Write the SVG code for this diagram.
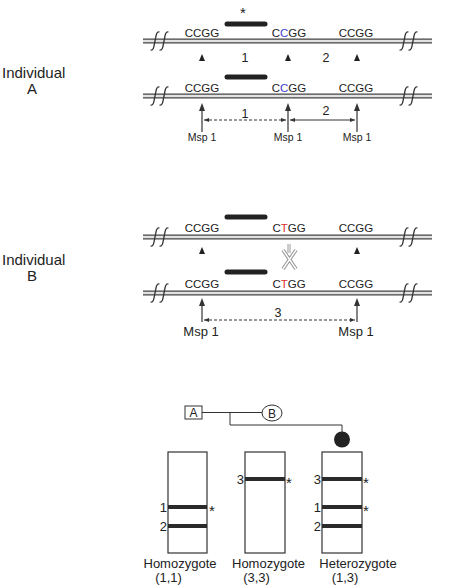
<svg xmlns="http://www.w3.org/2000/svg" width="450" height="588" viewBox="0 0 450 588">
<style>
text{font-family:"Liberation Sans",Arial,sans-serif;fill:#222}
.lbl{font-size:15px}
.seq{font-size:11.5px;text-anchor:middle}
.num{font-size:12.5px;text-anchor:middle}
.msa{font-size:10.5px;text-anchor:middle}
.msb{font-size:13px;text-anchor:middle}
.gl{font-size:13px;text-anchor:middle}
.bn{font-size:13px;text-anchor:end}
.st{font-size:15px}
.dnaO{stroke:#444;stroke-width:5}
.dnaI{stroke:#e2e2e2;stroke-width:2.4}
.bar{stroke:#222;stroke-width:5;stroke-linecap:round}
.tri{fill:#222}
.ar{stroke:#333;stroke-width:1.2;fill:none}
.dash{stroke:#333;stroke-width:1;stroke-dasharray:3,2;fill:none}
.sol{stroke:#333;stroke-width:1;fill:none}
.ped{stroke:#333;stroke-width:1;fill:none}
.gel{stroke:#333;stroke-width:1.2;fill:#fff}
.band{stroke:#2a2a2a;stroke-width:4}
</style>
<defs>
<path id="s" d="M-4.5,9 C-1,10 -1,4 0,0 C1,-4 1,-10 4.5,-9" fill="none" stroke="#333" stroke-width="1.3"/>
<g id="brkpair"><use href="#s" x="0"/><use href="#s" x="9"/></g>
<marker id="ah" viewBox="0 0 6 6" refX="6" refY="3" markerWidth="5" markerHeight="5" orient="auto-start-reverse" markerUnits="userSpaceOnUse"><path d="M0,0.5 L6,3 L0,5.5 Z" fill="#333"/></marker>
<path id="uph" d="M-3,8 L0,0 L3,8 Z" fill="#333"/>
</defs>

<g id="labelA"><text class="lbl" x="2" y="78">Individual</text><text class="lbl" x="32" y="94" text-anchor="middle">A</text></g>
<g id="labelB"><text class="lbl" x="2" y="265">Individual</text><text class="lbl" x="32" y="281" text-anchor="middle">B</text></g>

<g id="rowA1">
<line class="dnaO" x1="143" y1="41" x2="432" y2="41"/><line class="dnaI" x1="143" y1="41" x2="432" y2="41"/>
<use href="#brkpair" x="155" y="41"/><use href="#brkpair" x="404" y="41"/>
<line class="bar" x1="227" y1="24" x2="265" y2="24"/>
<text class="st" x="243" y="18" text-anchor="middle">*</text>
<text class="seq" x="202" y="37">CCGG</text>
<text class="seq" x="289" y="37">C<tspan fill="#4040d0">C</tspan>GG</text>
<text class="seq" x="356" y="37">CCGG</text>
<polygon class="tri" points="199,61 205,61 202,54"/>
<polygon class="tri" points="285,61 291,61 288,54"/>
<polygon class="tri" points="354,61 360,61 357,54"/>
<text class="num" x="245" y="62">1</text><text class="num" x="326" y="62">2</text>
</g>

<g id="rowA2">
<line class="dnaO" x1="143" y1="96" x2="432" y2="96"/><line class="dnaI" x1="143" y1="96" x2="432" y2="96"/>
<use href="#brkpair" x="155" y="96"/><use href="#brkpair" x="404" y="96"/>
<line class="bar" x1="227" y1="77" x2="265" y2="77"/>
<text class="seq" x="202" y="92">CCGG</text>
<text class="seq" x="289" y="92">C<tspan fill="#4040d0">C</tspan>GG</text>
<text class="seq" x="356" y="92">CCGG</text>
<text class="num" x="245" y="118">1</text><text class="num" x="326" y="115">2</text>
<text class="msa" x="202" y="141">Msp 1</text><text class="msa" x="288" y="141">Msp 1</text><text class="msa" x="357" y="141">Msp 1</text>
</g>

<g id="rowB1">
<line class="dnaO" x1="143" y1="237" x2="432" y2="237"/><line class="dnaI" x1="143" y1="237" x2="432" y2="237"/>
<use href="#brkpair" x="155" y="237"/><use href="#brkpair" x="404" y="237"/>
<line class="bar" x1="227" y1="217" x2="265" y2="217"/>
<text class="seq" x="202" y="232">CCGG</text>
<text class="seq" x="289" y="232">C<tspan fill="#e03030">T</tspan>GG</text>
<text class="seq" x="356" y="232">CCGG</text>
<polygon class="tri" points="199,254 205,254 202,247"/>
<polygon class="tri" points="354,254 360,254 357,247"/>
<g id="blocked">
<line x1="289" y1="244" x2="289" y2="253" stroke="#999" stroke-width="3"/>
<line x1="289" y1="244" x2="289" y2="253" stroke="#fff" stroke-width="1"/>
<path d="M283,250 L296,269 M296,250 L283,269" stroke="#999" stroke-width="3.6" fill="none"/>
<path d="M283,250 L296,269 M296,250 L283,269" stroke="#fff" stroke-width="1.4" fill="none"/>
</g>
</g>

<g id="rowB2">
<line class="dnaO" x1="143" y1="293" x2="432" y2="293"/><line class="dnaI" x1="143" y1="293" x2="432" y2="293"/>
<use href="#brkpair" x="155" y="293"/><use href="#brkpair" x="404" y="293"/>
<line class="bar" x1="227" y1="272" x2="265" y2="272"/>
<text class="seq" x="202" y="288">CCGG</text>
<text class="seq" x="289" y="288">C<tspan fill="#e03030">T</tspan>GG</text>
<text class="seq" x="356" y="288">CCGG</text>
<text class="num" x="278" y="317">3</text>
<text class="msb" x="201" y="336">Msp 1</text><text class="msb" x="356" y="336">Msp 1</text>
</g>

<g id="connectors">
<line class="ar" x1="202" y1="132" x2="202" y2="108"/><use href="#uph" x="202" y="103"/>
<line class="ar" x1="288" y1="132" x2="288" y2="108"/><use href="#uph" x="288" y="103"/>
<line class="ar" x1="357" y1="132" x2="357" y2="108"/><use href="#uph" x="357" y="103"/>
<line class="dash" x1="204" y1="120" x2="286" y2="120" marker-start="url(#ah)" marker-end="url(#ah)"/>
<line class="sol" x1="290" y1="120" x2="355" y2="120" marker-start="url(#ah)" marker-end="url(#ah)"/>
<line class="ar" x1="202" y1="322" x2="202" y2="303"/><use href="#uph" x="202" y="298"/>
<line class="ar" x1="357" y1="322" x2="357" y2="303"/><use href="#uph" x="357" y="298"/>
<line class="dash" x1="204" y1="320" x2="355" y2="320" marker-start="url(#ah)" marker-end="url(#ah)"/>
<path class="ped" d="M202,412.5 H262 M230,412.5 V425 H342 V432"/>
</g>

<g id="pedA"><rect x="185" y="406" width="17" height="13" fill="#fff" stroke="#333" stroke-width="1"/><text x="193.5" y="417" font-size="12" text-anchor="middle">A</text></g>
<g id="pedB"><ellipse cx="272" cy="413" rx="10" ry="8" fill="#fff" stroke="#333" stroke-width="1"/><text x="272" y="417.5" font-size="12" text-anchor="middle">B</text></g>
<g id="child"><circle cx="342" cy="439.5" r="8" fill="#222"/></g>

<g id="gel1">
<rect class="gel" x="168" y="452" width="39" height="101"/>
<line class="band" x1="168" y1="507" x2="207" y2="507"/><line class="band" x1="168" y1="526" x2="207" y2="526"/>
<text class="bn" x="167" y="512">1</text><text class="bn" x="167" y="531">2</text>
<text class="st" x="209" y="516">*</text>
<text class="gl" x="180" y="568">Homozygote</text><text class="gl" x="168.5" y="582">(1,1)</text>
</g>
<g id="gel2">
<rect class="gel" x="245" y="452" width="40" height="101"/>
<line class="band" x1="245" y1="479" x2="285" y2="479"/>
<text class="bn" x="244" y="484">3</text>
<text class="st" x="286" y="488">*</text>
<text class="gl" x="268.5" y="568">Homozygote</text><text class="gl" x="256.5" y="582">(3,3)</text>
</g>
<g id="gel3">
<rect class="gel" x="322" y="452" width="40" height="101"/>
<line class="band" x1="322" y1="479" x2="362" y2="479"/><line class="band" x1="322" y1="507" x2="362" y2="507"/><line class="band" x1="322" y1="526" x2="362" y2="526"/>
<text class="bn" x="321" y="484">3</text><text class="bn" x="321" y="512">1</text><text class="bn" x="321" y="531">2</text>
<text class="st" x="363" y="488">*</text><text class="st" x="363" y="516">*</text>
<text class="gl" x="358" y="568">Heterozygote</text><text class="gl" x="345" y="582">(1,3)</text>
</g>
</svg>
